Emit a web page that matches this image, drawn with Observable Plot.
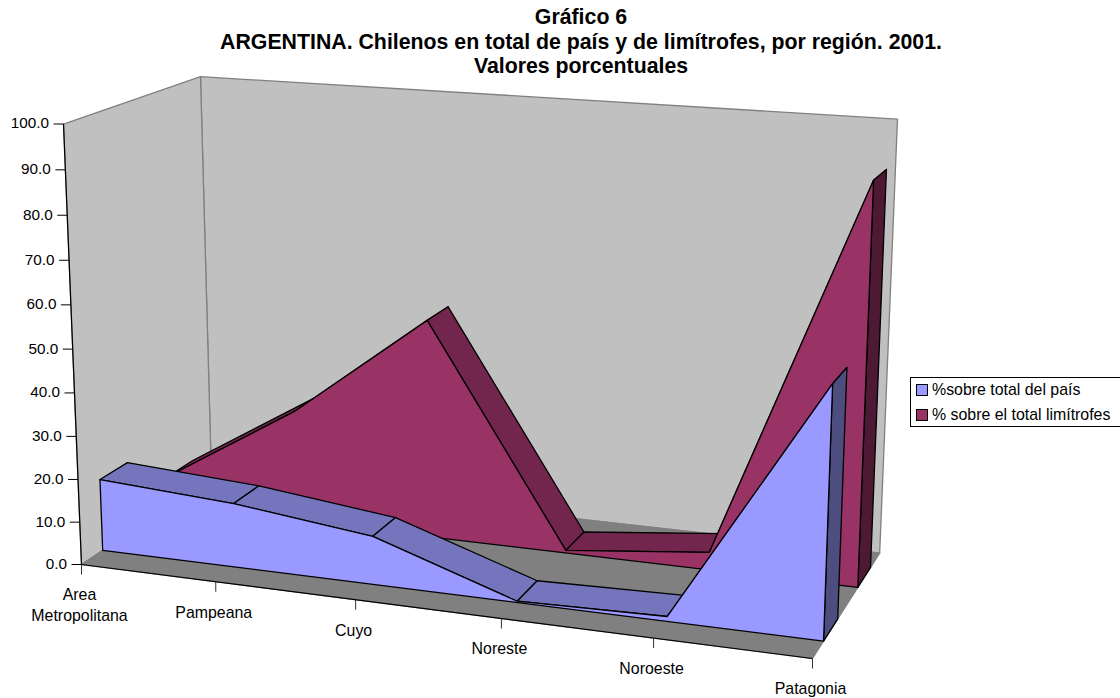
<!DOCTYPE html>
<html lang="es">
<head>
<meta charset="utf-8">
<script src="https://cdn.jsdelivr.net/npm/d3@7"></script>
<script src="https://cdn.jsdelivr.net/npm/@observablehq/plot@0.6"></script>
<style>
  html, body { margin: 0; padding: 0; background: #fff; }
  #page { position: relative; width: 1120px; height: 698px; overflow: hidden; font-family: "Liberation Sans", Arial, sans-serif; color: #000; }
  #title { position: absolute; left: 0; top: 5px; width: 1162px; text-align: center; font-weight: bold; font-size: 21.3px; line-height: 24.5px; }
  #chart { position: absolute; left: 0; top: 0; }
  #legend { position: absolute; left: 910px; top: 377px; width: 230px; height: 48px; border: 1px solid #000; background: #fff; font-size: 15.9px; }
  #legend div { position: absolute; left: 21px; white-space: nowrap; line-height: 18px; }
  #legend i { position: absolute; left: -16px; top: 3px; width: 10px; height: 10px; border: 1px solid #000; }
</style>
</head>
<body>
<div id="page">
  <div id="chart"></div>
  <div id="title">Gráfico 6<br>ARGENTINA. Chilenos en total de país y de limítrofes, por región. 2001.<br>Valores porcentuales</div>
  <div id="legend"></div>
</div>
<script>
// Regions along the category axis and the two percentage series.
const regiones = ["Area\nMetropolitana", "Pampeana", "Cuyo", "Noreste", "Noroeste", "Patagonia"];
const sobreTotalPais = [16.9, 14.9, 11.1, 0.3, 1.1, 55.0];
const sobreLimitrofes = [7.4, 26.8, 51.6, 0.6, 4.1, 90.6];
const ticksValor = [0, 10, 20, 30, 40, 50, 60, 70, 80, 90, 100];

// Depth slots of each series inside the box (0 = front, 1 = back).
const profundidadPais = [0.15, 0.35];
const profundidadLimitrofes = [0.65, 0.85];

const colores = {
  pared: "#c0c0c0", piso: "#808080", borde: "#808080",
  pais: "#9999ff", paisCinta: "#7575bd", paisLado: "#4d4d80",
  limitrofes: "#993366", limitrofesCinta: "#72264d", limitrofesLado: "#4d1933"
};

// Perspective camera: box coordinates (u, v, w in 0..1) to page pixels.
const cam = {
  a: [81, 649.8, 151.9, -20.7],
  b: [564, 28.2, -37.4, -445.8],
  g: [-0.1, 0.104, -0.043],
  sesgo: 5
};
function camara(u, v, w) {
  const d = 1 + cam.g[0] * u + cam.g[1] * v + cam.g[2] * w;
  return [
    (cam.a[0] + cam.a[1] * u + cam.a[2] * v + cam.a[3] * w) / d,
    (cam.b[0] + cam.b[1] * u + cam.b[2] * v + cam.b[3] * w + cam.sesgo * u * v * w) / d
  ];
}
const ultimo = regiones.length - 1;
// A point is [category index, depth, value].
const px = (p) => camara(p[0] / ultimo, p[1], p[2] / 100)[0];
const py = (p) => camara(p[0] / ultimo, p[1], p[2] / 100)[1];

function cara(puntos, fill, stroke = "#000") {
  return Plot.line(puntos, {x: px, y: py, curve: "linear-closed", fill, stroke, strokeWidth: 1.3, strokeLinejoin: "round"});
}

// One ribbon series: top ribbons, right-hand cap, then the front face on top.
function serie(valores, [vf, vb], cFrente, cCinta, cLado) {
  const marks = [];
  for (let i = 0; i < ultimo; i++) {
    marks.push(cara([[i, vf, valores[i]], [i + 1, vf, valores[i + 1]], [i + 1, vb, valores[i + 1]], [i, vb, valores[i]]], cCinta));
  }
  marks.push(cara([[ultimo, vf, 0], [ultimo, vf, valores[ultimo]], [ultimo, vb, valores[ultimo]], [ultimo, vb, 0]], cLado));
  const frente = valores.map((y, i) => [i, vf, y]);
  frente.push([ultimo, vf, 0], [0, vf, 0]);
  marks.push(cara(frente, cFrente));
  return marks;
}

const marcas = [
  // Walls and floor of the box.
  cara([[0, 1, 0], [ultimo, 1, 0], [ultimo, 1, 100], [0, 1, 100]], colores.pared, colores.borde),
  cara([[0, 0, 0], [0, 1, 0], [0, 1, 100], [0, 0, 100]], colores.pared, colores.borde),
  cara([[0, 0, 0], [ultimo, 0, 0], [ultimo, 1, 0], [0, 1, 0]], colores.piso, colores.borde),
  ...serie(sobreLimitrofes, profundidadLimitrofes, colores.limitrofes, colores.limitrofesCinta, colores.limitrofesLado),
  ...serie(sobreTotalPais, profundidadPais, colores.pais, colores.paisCinta, colores.paisLado),
  // Value axis on the front-left edge.
  Plot.link([[[0, 0, 0], [0, 0, 100]]], {x1: (d) => px(d[0]), y1: (d) => py(d[0]), x2: (d) => px(d[1]), y2: (d) => py(d[1]), stroke: "#000", strokeWidth: 1.2}),
  Plot.link(ticksValor, {x1: (t) => px([0, 0, t]), y1: (t) => py([0, 0, t]), x2: (t) => px([0, 0, t]) - 10, y2: (t) => py([0, 0, t]), stroke: "#000"}),
  Plot.text(ticksValor, {x: (t) => px([0, 0, t]), y: (t) => py([0, 0, t]), text: (t) => t.toFixed(1), textAnchor: "end", dx: -14.5, dy: -0.5, fontSize: 15.3, fill: "#000"}),
  // Category axis along the front edge of the floor.
  Plot.link([[[0, 0, 0], [ultimo, 0, 0]]], {x1: (d) => px(d[0]), y1: (d) => py(d[0]), x2: (d) => px(d[1]), y2: (d) => py(d[1]), stroke: "#000", strokeWidth: 1.2}),
  Plot.link(regiones, {x1: (_, i) => px([i, 0, 0]), y1: (_, i) => py([i, 0, 0]), x2: (_, i) => px([i, 0, 0]), y2: (_, i) => py([i, 0, 0]) + 10, stroke: "#333"}),
  Plot.text(regiones, {x: (_, i) => px([i, 0, 0]), y: (_, i) => py([i, 0, 0]), text: (d) => d, lineAnchor: "top", dy: 21, dx: -2, lineHeight: 1.31, fontSize: 15.9, fill: "#000"})
];

const grafico = Plot.plot({
  width: 1120,
  height: 698,
  margin: 0,
  x: {domain: [0, 1120], range: [0, 1120], axis: null},
  y: {domain: [0, 698], range: [0, 698], axis: null},
  style: {background: "transparent", fontFamily: "'Liberation Sans', Arial, sans-serif"},
  marks: marcas
});
document.getElementById("chart").append(grafico);

// Legend box beside the plot.
const leyenda = d3.select("#legend");
[["%sobre total del país", colores.pais], ["% sobre el total limítrofes", colores.limitrofes]].forEach(([texto, color], i) => {
  const fila = leyenda.append("div").style("top", `${3 + i * 25}px`).text(texto);
  fila.append("i").style("background", color);
});
</script>
</body>
</html>
